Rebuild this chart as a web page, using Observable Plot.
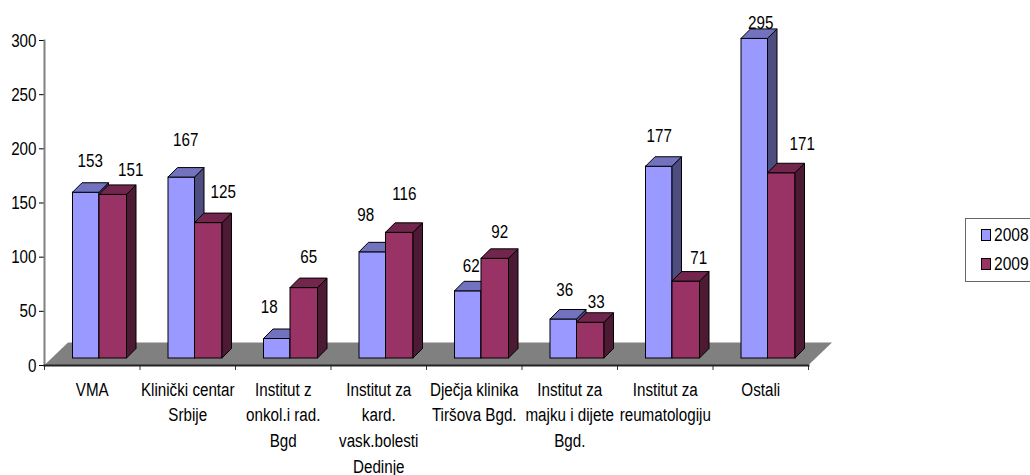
<!DOCTYPE html>
<html>
<head>
<meta charset="utf-8">
<script src="https://cdn.jsdelivr.net/npm/d3@7"></script>
<script src="https://cdn.jsdelivr.net/npm/@observablehq/plot@0.6"></script>
<style>
html,body{margin:0;padding:0;background:#fff;overflow:hidden;width:1030px;height:475px}
#wrap{position:relative;width:1030px;height:475px;overflow:hidden}
#legend{position:absolute;left:965px;top:218px;width:64px;height:62px;border:1px solid #666;border-right:none;background:#fff;font:19px "Liberation Sans",sans-serif;color:#000;overflow:visible}
#legend i{position:absolute;left:15px;width:8px;height:10px;border:1px solid #000}
#legend span{position:absolute;left:28px;line-height:20px;white-space:nowrap;transform:scaleX(.82);transform-origin:left center}
</style>
</head>
<body>
<div id="wrap"></div>
<script>
const categories = [
  "VMA",
  "Klinički centar\nSrbije",
  "Institut z\nonkol.i rad.\nBgd",
  "Institut za\nkard.\nvask.bolesti\nDedinje",
  "Dječja klinika\nTiršova Bgd.",
  "Institut za\nmajku i dijete\nBgd.",
  "Institut za\nreumatologiju",
  "Ostali"
];
const values2008 = [153, 167, 18, 98, 62, 36, 177, 295];
const values2009 = [151, 125, 65, 116, 92, 33, 71, 171];
const yTicks = [0, 50, 100, 150, 200, 250, 300];

// hand placement of the value labels, [dx, dy] from the top of each bar's front face
const nudge2008 = [[4,-32],[4,-38],[-8,-32],[-7,-37],[3,-25],[1,-30],[0,-31],[6,-16]];
const nudge2009 = [[17,-25],[14,-31],[4,-31],[4,-39],[4,-27],[5,-21],[12,-24],[20,-29]];

const FONT = '"Liberation Sans",sans-serif';
const DEPTH = 9.5, FLOOR_X = 24, FLOOR_Y = 23, LIFT = -7, CONDENSE = 0.8;
const BAND = (1030 - 44 - 222) / categories.length;

const svgNS = "http://www.w3.org/2000/svg";
function poly(g, pts, fill) {
  const p = document.createElementNS(svgNS, "path");
  p.setAttribute("d", "M" + pts.map(q => q.join(",")).join("L") + "Z");
  p.setAttribute("fill", fill);
  p.setAttribute("stroke", "#000");
  p.setAttribute("stroke-width", 1);
  p.setAttribute("stroke-linejoin", "round");
  g.appendChild(p);
}

function prism(rows, insetLeft, insetRight, front, top, side) {
  return Plot.barY(rows, {
    x: "category", y: "value",
    insetLeft, insetRight, dy: LIFT,
    fill: front, stroke: "#000", strokeWidth: 1,
    render(index, scales, values, dims, context, next) {
      const g = next(index, scales, values, dims, context);
      for (const i of index) {
        const x0 = values.x[i] + insetLeft;
        const x1 = values.x[i] + BAND - insetRight;
        const yt = Math.min(values.y1[i], values.y2[i]);
        const yb = Math.max(values.y1[i], values.y2[i]);
        poly(g, [[x1,yt],[x1+DEPTH,yt-DEPTH],[x1+DEPTH,yb-DEPTH],[x1,yb]], side);
        poly(g, [[x0,yt],[x0+DEPTH,yt-DEPTH],[x1+DEPTH,yt-DEPTH],[x1,yt]], top);
      }
      return g;
    }
  });
}

const rows2008 = categories.map((category, i) => ({category, value: values2008[i], nudge: nudge2008[i]}));
const rows2009 = categories.map((category, i) => ({category, value: values2009[i], nudge: nudge2009[i]}));

const floor = Plot.ruleY([0], {
  stroke: "none",
  render(index, scales, values, dims, context, next) {
    const g = next(index, scales, values, dims, context);
    const y0 = scales.y(0), a = dims.marginLeft, b = dims.width - dims.marginRight;
    const p = document.createElementNS(svgNS, "path");
    p.setAttribute("d", `M${a},${y0}L${a+FLOOR_X},${y0-FLOOR_Y}L${b+FLOOR_X},${y0-FLOOR_Y}L${b},${y0}Z`);
    p.setAttribute("fill", "#808080");
    p.setAttribute("stroke", "none");
    g.appendChild(p);
    return g;
  }
});

const valueLabels = (rows, baseDx) => rows.map(r => Plot.text([r], {
  x: "category", y: "value", text: d => String(d.value),
  dx: baseDx + r.nudge[0], dy: LIFT + r.nudge[1],
  fontSize: 19, fill: "#000", lineAnchor: "middle", stroke: "none"
}));

const chart = Plot.plot({
  width: 1030, height: 475,
  marginLeft: 44, marginRight: 222, marginTop: 40, marginBottom: 110,
  style: {fontFamily: FONT, background: "#fff", color: "#000"},
  x: {domain: categories, padding: 0, round: false, label: null},
  y: {domain: [0, 300], label: null},
  marks: [
    floor,
    Plot.axisY({ticks: yTicks, tickSize: 5, tickPadding: 3, fontSize: 19, stroke: "#000", label: null, tickFormat: d => String(d)}),
    Plot.frame({anchor: "left", stroke: "#808080", strokeWidth: 2}),
    Plot.axisX({tickSize: 0, tickPadding: 12, fontSize: 19, lineHeight: 1.35, label: null, fill: "#000"}),
    Plot.axisX({tickSize: 5, text: null, dx: 47.75, stroke: "#333", label: null}),
    Plot.axisX({ticks: [categories[0]], tickSize: 5, text: null, dx: -47.75, stroke: "#333", label: null}),
    Plot.frame({anchor: "bottom", stroke: "#222", strokeWidth: 2}),
    prism(rows2008, 28.5, 40.5, "#9999FF", "#7272BF", "#4D4D80"),
    prism(rows2009, 55, 13, "#993366", "#73264D", "#4D1A33"),
    ...valueLabels(rows2008, -6),
    ...valueLabels(rows2009, 21.5)
  ]
});

// the reference's lettering is tall and narrow: condense each text horizontally about its anchor
chart.querySelectorAll("text").forEach(t => {
  const tr = t.getAttribute("transform") || "";
  t.setAttribute("transform", `${tr} scale(${CONDENSE},1)`.trim());
});

const wrap = document.getElementById("wrap");
wrap.appendChild(chart);
const legend = document.createElement("div");
legend.id = "legend";
legend.innerHTML =
  '<i style="top:10px;background:#9999FF"></i><span style="top:6px">2008</span>' +
  '<i style="top:39px;background:#993366"></i><span style="top:35px">2009</span>';
wrap.appendChild(legend);
</script>
</body>
</html>
